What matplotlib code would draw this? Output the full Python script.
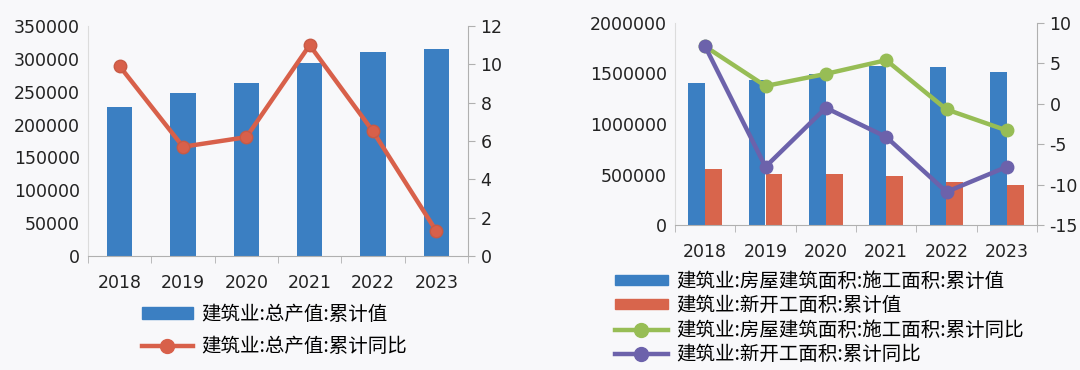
import numpy as np
import matplotlib.pyplot as plt
from matplotlib.lines import Line2D
from matplotlib.patches import Patch

plt.rcParams['font.family'] = ['Noto Sans CJK SC', 'DejaVu Sans']
plt.rcParams['axes.unicode_minus'] = False

# data
years = ['2018', '2019', '2020', '2021', '2022', '2023']
output_value = [226000, 248500, 263700, 293200, 310900, 314500]
output_yoy = [9.9, 5.7, 6.2, 11.0, 6.5, 1.3]

area_building = [1405000, 1438000, 1495000, 1577000, 1562000, 1514000]
area_new = [552000, 506000, 506000, 486000, 426000, 397000]
building_yoy = [7.1, 2.2, 3.7, 5.4, -0.7, -3.3]
new_yoy = [7.1, -7.8, -0.5, -4.1, -10.9, -7.8]

BLUE = '#3b7fc2'
RED = '#d8604a'
GREEN = '#97bd55'
PURPLE = '#6c62ab'
BG = '#f8f8fa'
AXC = '#b0b0b0'
FS = 12.5
NUMFONT = ['DejaVu Sans']

fig = plt.figure(figsize=(10.8, 3.7), dpi=100, facecolor=BG)
x = np.arange(len(years))


def style_axes(ax, ax2):
    ax.set_facecolor(BG)
    for s in ['top', 'right']:
        ax.spines[s].set_visible(False)
    for s in ['top', 'left', 'bottom']:
        ax2.spines[s].set_visible(False)
    ax.spines['left'].set_color('#dcdcdc')
    ax.spines['bottom'].set_color(AXC)
    ax2.spines['right'].set_color(AXC)
    ax.set_xlim(-0.5, len(years) - 0.5)
    ax.set_xticks(x)
    ax.set_xticklabels(years)
    ax.set_xticks(np.arange(-0.5, len(years)), minor=True)
    ax.tick_params(axis='x', which='major', length=0, labelsize=FS, pad=13, colors='#222222')
    ax.tick_params(axis='x', which='minor', length=5, color=AXC)
    ax.tick_params(axis='y', length=0, labelsize=FS, pad=6, colors='#222222')
    ax2.tick_params(axis='y', length=5, color=AXC, labelsize=FS, pad=4, colors='#222222')
    ax.ticklabel_format(axis='y', style='plain', useOffset=False)
    for t in ax.get_xticklabels() + ax.get_yticklabels() + ax2.get_yticklabels():
        t.set_family(NUMFONT)
    ax.set_zorder(1)
    ax2.set_zorder(2)
    ax2.patch.set_visible(False)


# left chart
ax1 = fig.add_axes([88 / 1080, 1 - 256 / 370, 380 / 1080, 230 / 370])
ax1b = ax1.twinx()
ax1.bar(x, output_value, width=0.4, color=BLUE)
ax1.set_ylim(0, 350000)
ax1.set_yticks(np.arange(0, 350001, 50000))
ax1b.plot(x, output_yoy, color=RED, lw=3.2, marker='o', ms=9, mec='#c85a45')
ax1b.set_ylim(0, 12)
ax1b.set_yticks(np.arange(0, 13, 2))
style_axes(ax1, ax1b)

h1 = [Patch(color=BLUE),
      Line2D([], [], color=RED, lw=3.2, marker='o', ms=10)]
fig.legend(h1, ['建筑业:总产值:累计值', '建筑业:总产值:累计同比'],
           loc='upper left', bbox_to_anchor=(142 / 1080, 1 - 304 / 370),
           frameon=False, fontsize=14, handlelength=2.6, handleheight=0.55,
           handletextpad=0.46, labelspacing=0.56, borderpad=0, borderaxespad=0)

# right chart
ax2 = fig.add_axes([675 / 1080, 1 - 225 / 370, 362 / 1080, 202 / 370])
ax2b = ax2.twinx()
w = 0.28
ax2.bar(x - w / 2, area_building, width=w, color=BLUE)
ax2.bar(x + w / 2, area_new, width=w, color='#d8654c')
ax2.set_ylim(0, 2000000)
ax2.set_yticks(np.arange(0, 2000001, 500000))
ax2b.plot(x, building_yoy, color=GREEN, lw=3.2, marker='o', ms=9)
ax2b.plot(x, new_yoy, color=PURPLE, lw=3.2, marker='o', ms=9)
ax2b.set_ylim(-15, 10)
ax2b.set_yticks(np.arange(-15, 11, 5))
style_axes(ax2, ax2b)

h2 = [Patch(color=BLUE), Patch(color='#d8654c'),
      Line2D([], [], color=GREEN, lw=3.2, marker='o', ms=10),
      Line2D([], [], color=PURPLE, lw=3.2, marker='o', ms=10)]
fig.legend(h2, ['建筑业:房屋建筑面积:施工面积:累计值', '建筑业:新开工面积:累计值',
                '建筑业:房屋建筑面积:施工面积:累计同比', '建筑业:新开工面积:累计同比'],
           loc='upper left', bbox_to_anchor=(615 / 1080, 1 - 271 / 370),
           frameon=False, fontsize=14, handlelength=2.7, handleheight=0.42,
           handletextpad=0.45, labelspacing=0.17, borderpad=0, borderaxespad=0)

fig.savefig('out.png', dpi=100, facecolor=BG)
